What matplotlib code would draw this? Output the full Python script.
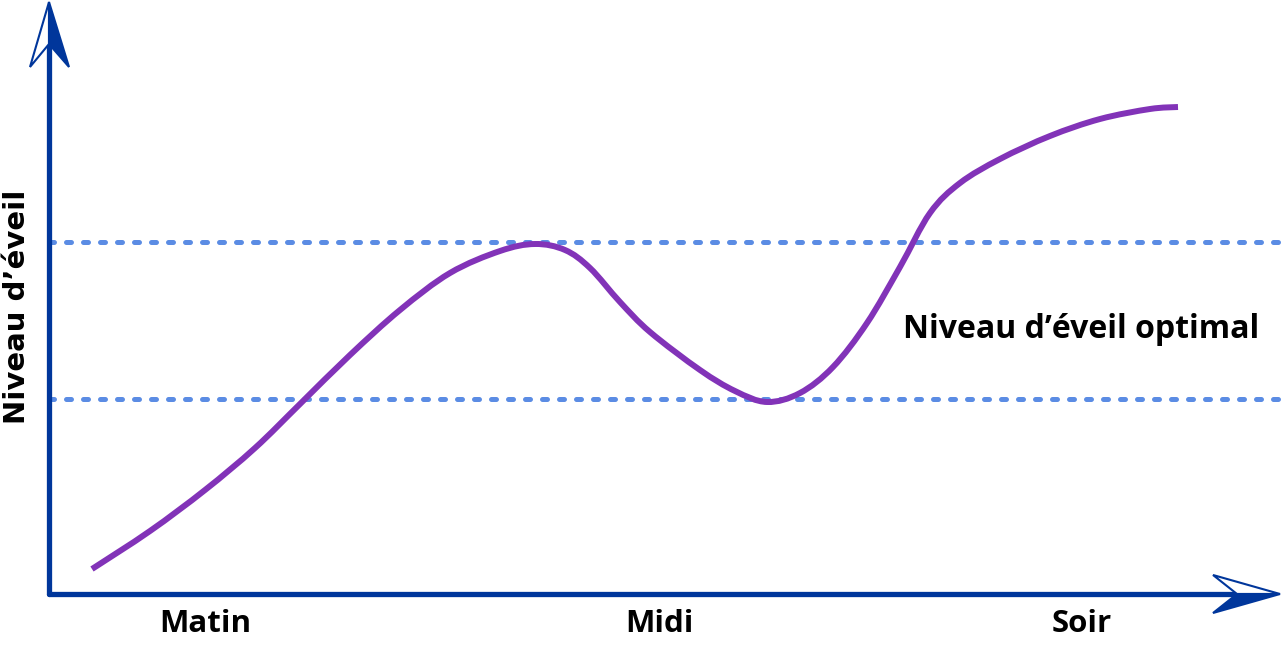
import matplotlib.pyplot as plt
from matplotlib.patches import Polygon, PathPatch
from matplotlib.path import Path

# curve (pixel space, y grows downward)
time_x = [92, 150, 205, 255, 300, 350, 400, 450, 500, 535, 565, 590, 620,
          650, 700, 735, 767, 800, 833, 867, 900, 930, 960, 1000, 1050,
          1100, 1150, 1178]
level_y = [569, 531, 490, 448, 404, 355, 310, 273, 251, 244, 250, 268, 302,
           332, 370, 391, 402, 393, 367, 323, 267, 213, 183, 159, 136,
           119, 109, 107]

optimal_bounds = [242, 399]
tick_labels = ["Matin", "Midi", "Soir"]
tick_x = [205, 659, 1082]

axis_color = "#00369B"
curve_color = "#8233B8"
dot_color = "#5B8CE4"


def smooth_path(xs, ys):
    # catmull-rom through the read points, as cubic bezier segments
    pts = list(zip(xs, ys))
    verts = [pts[0]]
    codes = [Path.MOVETO]
    for i in range(len(pts) - 1):
        p0 = pts[i - 1] if i > 0 else pts[i]
        p1 = pts[i]
        p2 = pts[i + 1]
        p3 = pts[i + 2] if i + 2 < len(pts) else pts[i + 1]
        c1 = (p1[0] + (p2[0] - p0[0]) / 6, p1[1] + (p2[1] - p0[1]) / 6)
        c2 = (p2[0] - (p3[0] - p1[0]) / 6, p2[1] - (p3[1] - p1[1]) / 6)
        verts += [c1, c2, p2]
        codes += [Path.CURVE4] * 3
    return Path(verts, codes)


fig = plt.figure(figsize=(12.83, 6.45), dpi=100)
ax = fig.add_axes([0, 0, 1, 1])
ax.set_xlim(0, 1283)
ax.set_ylim(645, 0)
ax.axis("off")

# optimal zone bounds
for yb in optimal_bounds:
    ax.plot([49, 1283], [yb, yb], color=dot_color, lw=3.6,
            dashes=(1.0, 2.4), dash_capstyle="round", zorder=1)

# axes lines
ax.plot([49, 49], [594, 40], color=axis_color, lw=3.8, solid_capstyle="round", zorder=3)
ax.plot([49, 1240], [594, 594], color=axis_color, lw=3.8, solid_capstyle="round", zorder=3)

# arrow heads: half outlined, half filled
ax.add_patch(Polygon([(49, 2), (30, 67), (49, 44)], closed=True, facecolor="white",
                     edgecolor=axis_color, lw=1.5, zorder=4))
ax.add_patch(Polygon([(49, 2), (69, 67), (49, 44)], closed=True, facecolor=axis_color,
                     edgecolor=axis_color, lw=1.5, zorder=4))
ax.add_patch(Polygon([(1280, 594), (1213, 575), (1237, 594)], closed=True, facecolor="white",
                     edgecolor=axis_color, lw=1.5, zorder=4))
ax.add_patch(Polygon([(1280, 594), (1213, 613), (1237, 594)], closed=True, facecolor=axis_color,
                     edgecolor=axis_color, lw=1.5, zorder=4))

ax.add_patch(PathPatch(smooth_path(time_x, level_y), facecolor="none",
                       edgecolor=curve_color, lw=4.3, capstyle="butt",
                       joinstyle="round", zorder=2))

font = ["Open Sans", "DejaVu Sans"]
for lab, xt in zip(tick_labels, tick_x):
    ax.text(xt, 624, lab, ha="center", va="center", fontsize=22.5,
            fontweight="bold", family=font)

ax.text(1081, 330, "Niveau d\u2019éveil optimal", ha="center", va="center",
        fontsize=23, fontweight="bold", family=font)

ax.text(17, 307, "Niveau d\u2019éveil", ha="center", va="center", rotation=90,
        fontsize=21, fontweight="bold", family=["DejaVu Sans"])

fig.savefig("out.png", dpi=100)
